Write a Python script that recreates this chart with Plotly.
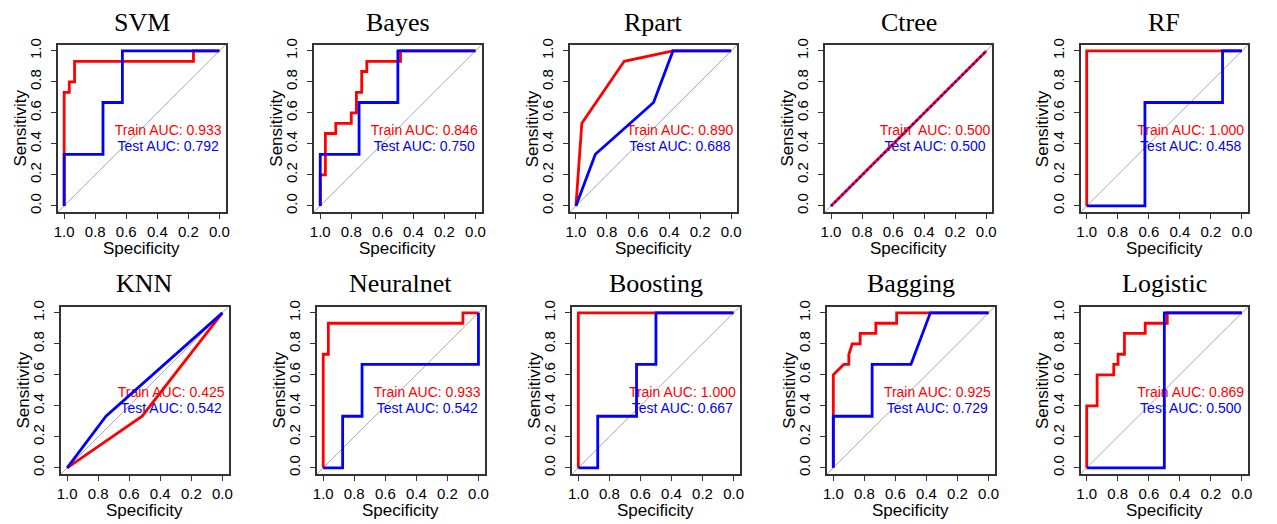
import plotly.graph_objects as go

# ---------------- data ----------------
models = ["SVM", "Bayes", "Rpart", "Ctree", "RF",
          "KNN", "Neuralnet", "Boosting", "Bagging", "Logistic"]
train_auc = [0.933, 0.846, 0.890, 0.500, 1.000, 0.425, 0.933, 1.000, 0.925, 0.869]
test_auc = [0.792, 0.750, 0.688, 0.500, 0.458, 0.542, 0.542, 0.667, 0.729, 0.500]
train_labels = ["Train AUC: %.3f" % v for v in train_auc]
train_labels[3] = "Train\u00a0 AUC: %.3f" % train_auc[3]
test_labels = ["Test AUC: %.3f" % v for v in test_auc]

tick_vals = [0.0, 0.2, 0.4, 0.6, 0.8, 1.0]
tick_text = ["0.0", "0.2", "0.4", "0.6", "0.8", "1.0"]

svm_train_spec = [1, 1, 0.967, 0.967, 0.933, 0.933, 0.167, 0.167, 0]
svm_train_sens = [0, 0.733, 0.733, 0.8, 0.8, 0.933, 0.933, 1, 1]
svm_test_spec = [1, 1, 0.75, 0.75, 0.625, 0.625, 0]
svm_test_sens = [0, 0.333, 0.333, 0.667, 0.667, 1, 1]

bayes_train_spec = [1, 1, 0.967, 0.967, 0.9, 0.9, 0.8, 0.8, 0.767, 0.767, 0.733, 0.733, 0.7, 0.7, 0.483, 0.483, 0]
bayes_train_sens = [0, 0.2, 0.2, 0.467, 0.467, 0.533, 0.533, 0.6, 0.6, 0.733, 0.733, 0.867, 0.867, 0.933, 0.933, 1, 1]
bayes_test_spec = [1, 1, 0.75, 0.75, 0.5, 0.5, 0]
bayes_test_sens = [0, 0.333, 0.333, 0.667, 0.667, 1, 1]

rpart_train_spec = [1, 0.962, 0.689, 0.375, 0]
rpart_train_sens = [0, 0.533, 0.933, 1, 1]
rpart_test_spec = [1, 0.875, 0.5, 0.375, 0]
rpart_test_sens = [0, 0.333, 0.667, 1, 1]

ctree_train_spec = [1, 0]
ctree_train_sens = [0, 1]
ctree_test_spec = [1, 0]
ctree_test_sens = [0, 1]

rf_train_spec = [1, 1, 0]
rf_train_sens = [0, 1, 1]
rf_test_spec = [1, 0.625, 0.625, 0.125, 0.125, 0]
rf_test_sens = [0, 0, 0.667, 0.667, 1, 1]

knn_train_spec = [1, 0.517, 0]
knn_train_sens = [0, 0.333, 1]
knn_test_spec = [1, 0.75, 0]
knn_test_sens = [0, 0.333, 1]

nnet_train_spec = [1, 1, 0.967, 0.967, 0.1, 0.1, 0]
nnet_train_sens = [0, 0.733, 0.733, 0.933, 0.933, 1, 1]
nnet_test_spec = [1, 0.875, 0.875, 0.75, 0.75, 0, 0]
nnet_test_sens = [0, 0, 0.333, 0.333, 0.667, 0.667, 1]

boost_train_spec = [1, 1, 0]
boost_train_sens = [0, 1, 1]
boost_test_spec = [1, 0.875, 0.875, 0.625, 0.625, 0.5, 0.5, 0]
boost_test_sens = [0, 0, 0.333, 0.333, 0.667, 0.667, 1, 1]

bag_train_spec = [1, 1, 0.933, 0.9, 0.9, 0.878, 0.827, 0.827, 0.726, 0.726, 0.592, 0.592, 0]
bag_train_sens = [0, 0.6, 0.667, 0.667, 0.733, 0.8, 0.8, 0.867, 0.867, 0.933, 0.933, 1, 1]
bag_test_spec = [1, 1, 0.75, 0.75, 0.5, 0.375, 0]
bag_test_sens = [0, 0.333, 0.333, 0.667, 0.667, 1, 1]

logit_train_spec = [1, 1, 0.933, 0.933, 0.826, 0.826, 0.798, 0.798, 0.757, 0.757, 0.623, 0.623, 0.481, 0.481, 0]
logit_train_sens = [0, 0.4, 0.4, 0.6, 0.6, 0.667, 0.667, 0.733, 0.733, 0.867, 0.867, 0.933, 0.933, 1, 1]
logit_test_spec = [1, 0.5, 0.5, 0]
logit_test_sens = [0, 0, 1, 1]

train_curves = [(svm_train_spec, svm_train_sens), (bayes_train_spec, bayes_train_sens),
                (rpart_train_spec, rpart_train_sens), (ctree_train_spec, ctree_train_sens),
                (rf_train_spec, rf_train_sens), (knn_train_spec, knn_train_sens),
                (nnet_train_spec, nnet_train_sens), (boost_train_spec, boost_train_sens),
                (bag_train_spec, bag_train_sens), (logit_train_spec, logit_train_sens)]
test_curves = [(svm_test_spec, svm_test_sens), (bayes_test_spec, bayes_test_sens),
               (rpart_test_spec, rpart_test_sens), (ctree_test_spec, ctree_test_sens),
               (rf_test_spec, rf_test_sens), (knn_test_spec, knn_test_sens),
               (nnet_test_spec, nnet_test_sens), (boost_test_spec, boost_test_sens),
               (bag_test_spec, bag_test_sens), (logit_test_spec, logit_test_sens)]

# ---------------- layout geometry (screen pixels) ----------------
W, H = 1277, 524
row_top = [39.3, 305.3]
box_h = 170.0
col_left = [[54.3, 312.0, 569.3, 826.0, 1083.3],
            [57.3, 315.0, 571.7, 828.3, 1083.3]]
box_w = 168.7


def px(xs):
    return xs / W


def py(ys):
    return 1 - ys / H


SANS = "Liberation Sans, Arial, sans-serif"
SERIF = "Liberation Serif, Times New Roman, serif"
FRAME = "#333333"

fig = go.Figure()
annotations = []
shapes = []
layout_axes = {}

for i, name in enumerate(models):
    r, c = divmod(i, 5)
    k = i + 1
    xa = "x" if k == 1 else "x%d" % k
    ya = "y" if k == 1 else "y%d" % k
    left = col_left[r][c]
    top = row_top[r]

    common = dict(tickvals=tick_vals, ticktext=tick_text,
                  ticks="outside", ticklen=5, tickwidth=1.3, tickcolor=FRAME,
                  showline=True, mirror=True, linecolor=FRAME, linewidth=1.6,
                  showgrid=False, zeroline=False,
                  tickfont=dict(family=SANS, size=15, color="black"))
    layout_axes["xaxis" if k == 1 else "xaxis%d" % k] = dict(
        domain=[px(left), px(left + box_w)], anchor=ya, range=[1.04, -0.04],
        tickangle=0, ticklabelstandoff=0, **common)
    layout_axes["yaxis" if k == 1 else "yaxis%d" % k] = dict(
        domain=[py(top + box_h), py(top)], anchor=xa, range=[-0.04, 1.04],
        tickangle=-90, ticklabelstandoff=4, **common)

    # diagonal reference line corner to corner
    shapes.append(dict(type="line", xref=xa + " domain", yref=ya + " domain",
                       x0=0, y0=0, x1=1, y1=1, layer="below",
                       line=dict(color="#A8A8A8", width=1)))

    # AUC text (drawn under curves)
    fig.add_trace(go.Scatter(x=[0.33, 0.33], y=[0.48, 0.376], mode="text",
                             text=[train_labels[i], test_labels[i]],
                             textposition="middle center",
                             textfont=dict(family=SANS, size=14, color=["#FF0000", "#0000FF"]),
                             xaxis=xa, yaxis=ya, showlegend=False, hoverinfo="skip"))
    tr = train_curves[i]
    te = test_curves[i]
    fig.add_trace(go.Scatter(x=tr[0], y=tr[1], mode="lines",
                             line=dict(color="#FF0000", width=2.8),
                             xaxis=xa, yaxis=ya, showlegend=False))
    dash = "2px,3px" if name == "Ctree" else "solid"
    fig.add_trace(go.Scatter(x=te[0], y=te[1], mode="lines",
                             line=dict(color="#0000FF", width=2.8 if name != "Ctree" else 2.2, dash=dash),
                             xaxis=xa, yaxis=ya, showlegend=False))

    cx = px(left + box_w / 2)
    annotations.append(dict(text=name, x=cx, y=py(top - 23), xref="paper", yref="paper",
                            xanchor="center", yanchor="middle", showarrow=False,
                            font=dict(family=SERIF, size=26, color="black")))
    annotations.append(dict(text="Specificity", x=cx, y=py(top + box_h + 37),
                            xref="paper", yref="paper", xanchor="center", yanchor="middle",
                            showarrow=False, font=dict(family=SANS, size=17, color="black")))
    annotations.append(dict(text="Sensitivity", x=px(left - 38), y=py(top + box_h / 2),
                            xref="paper", yref="paper", xanchor="center", yanchor="middle",
                            textangle=-90, showarrow=False,
                            font=dict(family=SANS, size=17, color="black")))

fig.update_layout(width=W, height=H, margin=dict(l=0, r=0, t=0, b=0),
                  paper_bgcolor="white", plot_bgcolor="white",
                  annotations=annotations, shapes=shapes, **layout_axes)

# remove the page's default 8px body margin so the figure fills the window
fig.write_html("out.html", config={"displayModeBar": False},
               post_script="document.body.style.margin='0';document.body.style.overflow='hidden';")
